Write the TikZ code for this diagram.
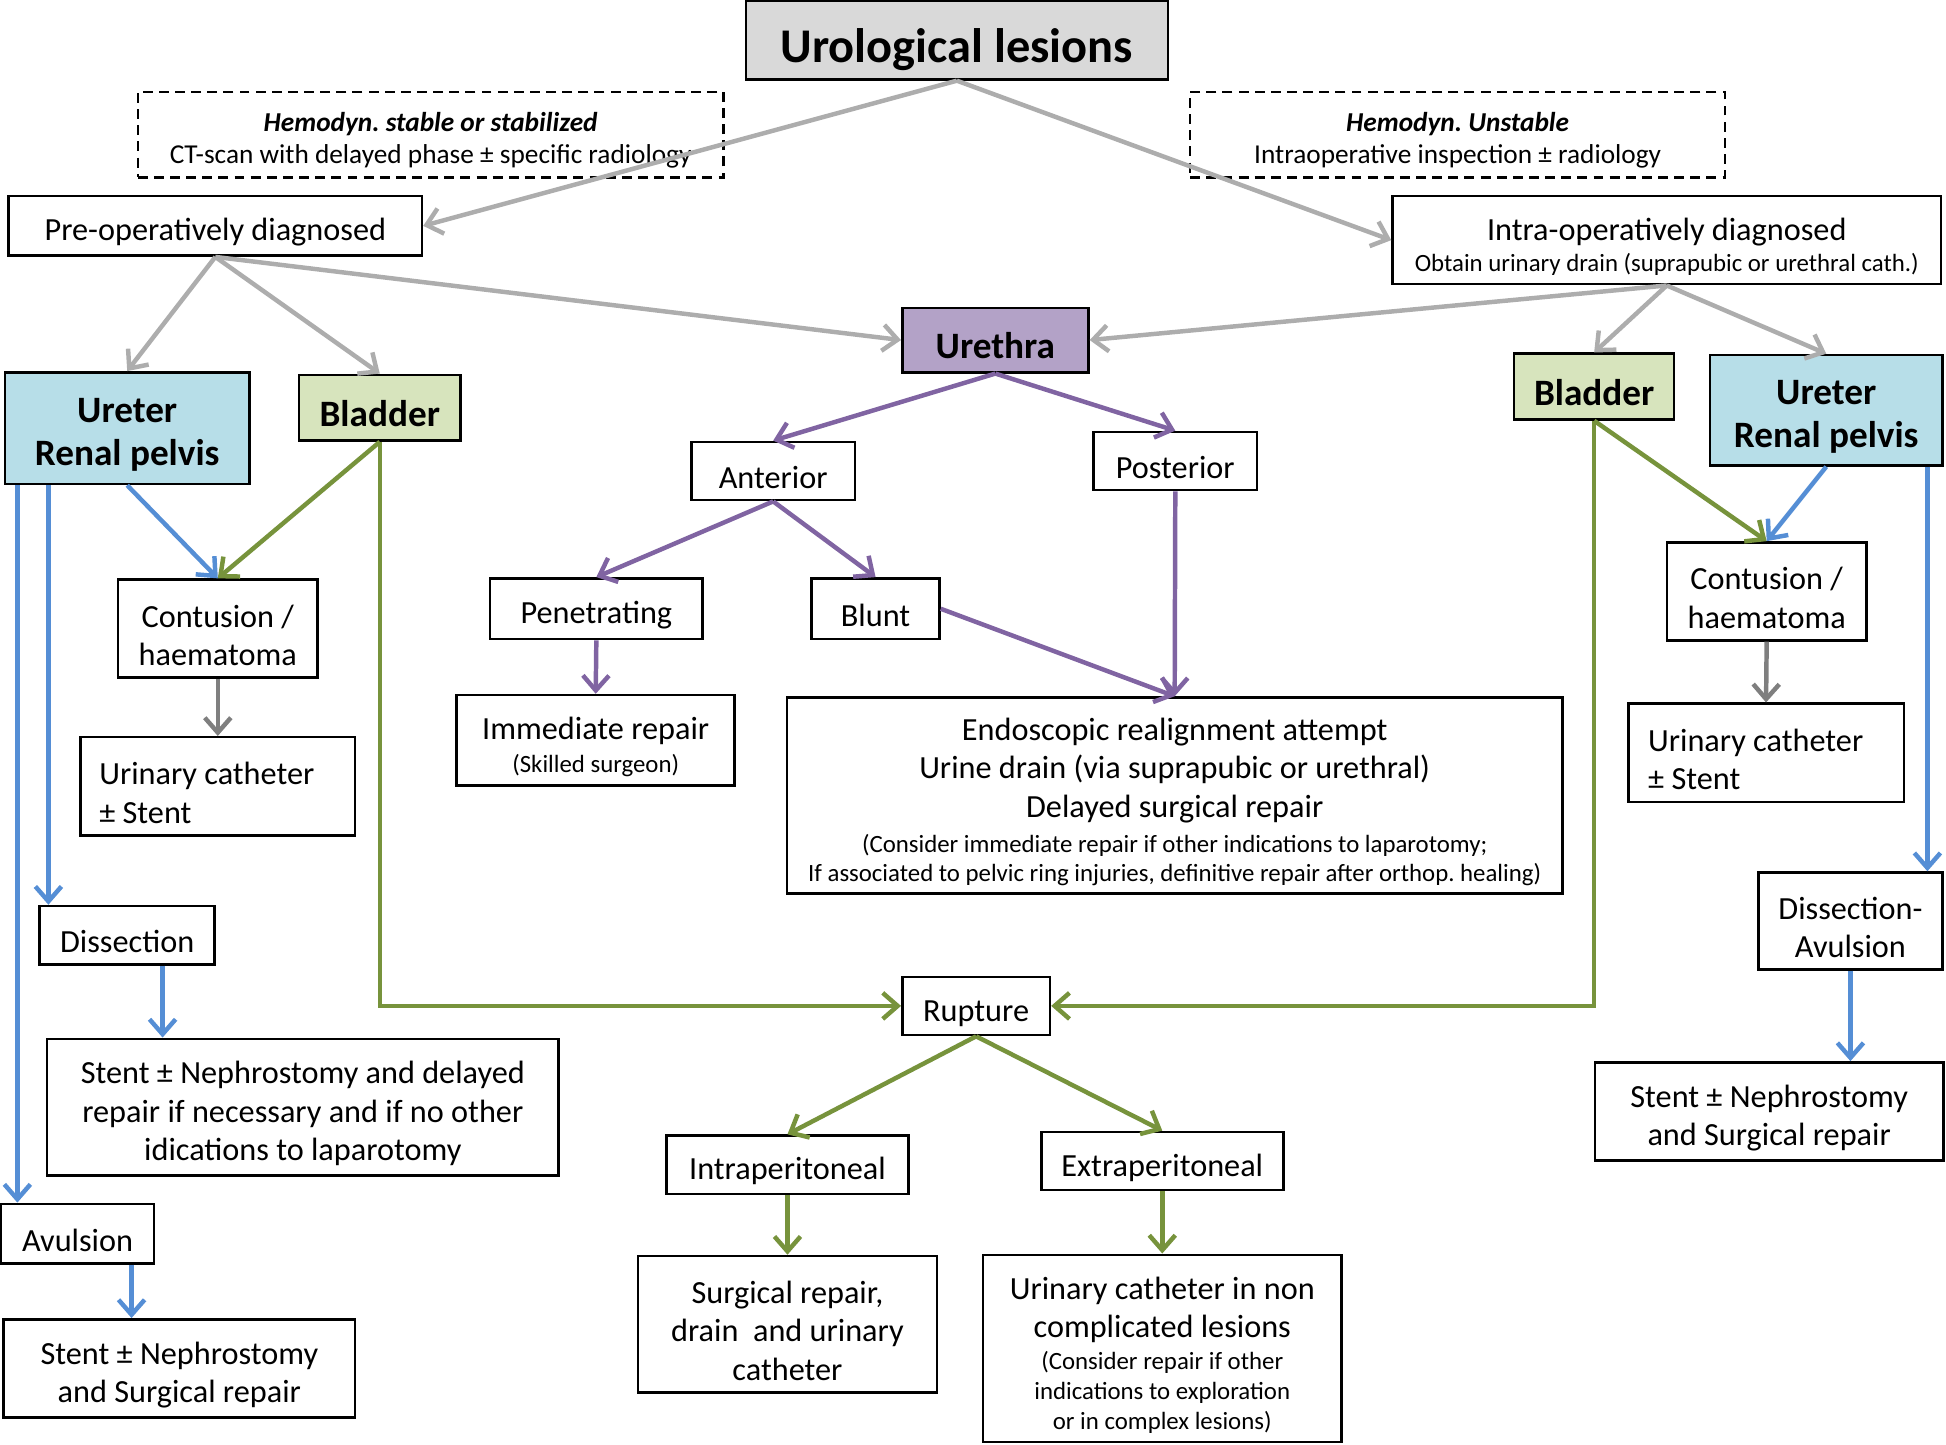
\documentclass[tikz,border=0pt]{standalone}
\usepackage{fontspec}
\setmainfont{Carlito}
\usetikzlibrary{arrows.meta}
\frenchspacing

\definecolor{titlegray}{HTML}{D9D9D9}
\definecolor{ureterfill}{HTML}{B7DEE8}
\definecolor{bladderfill}{HTML}{D7E4BD}
\definecolor{urethrafill}{HTML}{B3A2C7}
\definecolor{arrgray}{HTML}{ADADAD}
\definecolor{arrdark}{HTML}{7F7F7F}
\definecolor{arrpurple}{HTML}{8064A2}
\definecolor{arrblue}{HTML}{558ED5}
\definecolor{arrgreen}{HTML}{77933C}

\newcommand\mainsz{\fontsize{13}{15.5}\selectfont}
\newcommand\smallsz{\fontsize{10}{12}\selectfont}
\newcommand\dashsz{\fontsize{11}{13}\selectfont}
\newcommand\boldsz{\fontsize{15}{17.5}\selectfont\bfseries}
\newcommand\titlesz{\fontsize{19.5}{23}\selectfont\bfseries}

\begin{document}
\begin{tikzpicture}[
		x={(0.5pt,0pt)},
		y={(0pt,-0.5pt)},
		box/.style={draw, line width=1pt, inner xsep=0pt, inner ysep=0pt, align=center, font=\mainsz,
			execute at begin node={\spaceskip=0pt\xspaceskip=0pt\leftskip=0pt plus 1fil\rightskip=0pt plus 1fil\parfillskip=0pt\rule{0pt}{1.1em}}},
		lbox/.style={box, align=left, execute at begin node={\leftskip=0pt}},
		dbox/.style={box, dash pattern=on 4pt off 2.5pt, font=\dashsz},
		organ/.style={draw, line width=1pt, inner xsep=0pt, inner ysep=0pt, align=center, font=\boldsz,
			execute at begin node={\spaceskip=0pt\xspaceskip=0pt\leftskip=0pt plus 1fil\rightskip=0pt plus 1fil\parfillskip=0pt\rule{0pt}{1em}}},
		arr/.style={line width=1.8pt, -{Straight Barb[length=6pt,width=10.5pt]}},
		ga/.style={arr, draw=arrgray},
		da/.style={arr, draw=arrdark},
		pa/.style={arr, draw=arrpurple},
		ba/.style={arr, draw=arrblue},
		gra/.style={arr, draw=arrgreen},
	]
		\useasboundingbox (0,0) rectangle (1568,1164);
		
		\node[box, fill=titlegray, font=\titlesz, text width=170pt, minimum height=31.5pt] (title) at (771,32.5) {Urological lesions};
		\node[dbox, text width=236pt, minimum height=34.5pt] (stable) at (347,108.5) {\textbf{\textit{Hemodyn. stable or stabilized}}\\CT-scan with delayed phase ± specific radiology};
		\node[dbox, text width=215.5pt, minimum height=34.5pt] (unstable) at (1174.5,108.5) {\textbf{\textit{Hemodyn. Unstable}}\\Intraoperative inspection ± radiology};
		\node[box, text width=166.5pt, minimum height=24pt] (pre) at (173.5,182) {Pre-operatively diagnosed};
		\node[box, text width=221pt, minimum height=35.5pt] (intra) at (1343,193.5) {Intra-operatively diagnosed\\[0.5pt]\smallsz Obtain urinary drain (suprapubic or urethral cath.)\par};
		
		\node[organ, fill=urethrafill, text width=75pt, minimum height=26pt] (urethra) at (802,274) {Urethra};
		\node[organ, fill=ureterfill, text width=98.5pt, minimum height=45pt] (ureterL) at (102.5,345) {Ureter\\Renal pelvis};
		\node[organ, fill=bladderfill, text width=65pt, minimum height=26.5pt] (bladderL) at (306,328.5) {Bladder};
		\node[organ, fill=bladderfill, text width=64.5pt, minimum height=26.5pt] (bladderR) at (1284.5,311.5) {Bladder};
		\node[organ, fill=ureterfill, text width=93.5pt, minimum height=44.5pt] (ureterR) at (1471.5,330.5) {Ureter\\Renal pelvis};
		
		\node[box, text width=66pt, minimum height=23.5pt] (anterior) at (623,379.5) {Anterior};
		\node[box, text width=66pt, minimum height=23.5pt] (posterior) at (947,371.5) {Posterior};
		\node[box, text width=85.5pt, minimum height=24.5pt] (penetrating) at (480.5,490.5) {Penetrating};
		\node[box, text width=51.5pt, minimum height=24.5pt] (blunt) at (705.5,490.5) {Blunt};
		\node[box, text width=112pt, minimum height=36.5pt] (immediate) at (480,596.5) {Immediate repair\\[1.5pt]\smallsz (Skilled surgeon)\par};
		\node[box, text width=312.5pt, minimum height=79pt] (endo) at (946.5,641) {Endoscopic realignment attempt\\Urine drain (via suprapubic or urethral)\\Delayed surgical repair\\[2pt]\smallsz (Consider immediate repair if other indications to laparotomy;\\If associated to pelvic ring injuries, definitive repair after orthop. healing)\par};
		
		\node[box, text width=80.5pt, minimum height=39.5pt] (contL) at (175.5,506.5) {Contusion /\\haematoma};
		\node[lbox, inner xsep=7.5pt, text width=95.5pt, minimum height=39.5pt] (urinL) at (175.5,633.5) {Urinary catheter\\± Stent};
		\node[box, text width=70.5pt, minimum height=23.5pt] (dissL) at (102.5,753.5) {Dissection};
		\node[box, text width=206pt, minimum height=55pt] (stentL1) at (244,892) {Stent ± Nephrostomy and delayed\\repair if necessary and if no other\\idications to laparotomy};
		\node[box, text width=61.5pt, minimum height=24pt] (avulsion) at (62.5,994) {Avulsion};
		\node[box, text width=141.5pt, minimum height=39.5pt] (stentL2) at (144.5,1102.5) {Stent ± Nephrostomy\\and Surgical repair};
		
		\node[box, text width=80.5pt, minimum height=39.5pt] (contR) at (1423.5,476.5) {Contusion /\\haematoma};
		\node[lbox, inner xsep=8pt, text width=95pt, minimum height=39.5pt] (urinR) at (1423,606.5) {Urinary catheter\\± Stent};
		\node[box, text width=74pt, minimum height=39pt] (dissR) at (1491,742) {Dissection-\\Avulsion};
		\node[box, text width=140.5pt, minimum height=39.5pt] (stentR) at (1425.5,895.5) {Stent ± Nephrostomy\\and Surgical repair};
		
		\node[box, text width=59.5pt, minimum height=23.5pt] (rupture) at (786.5,810.5) {Rupture};
		\node[box, text width=97.5pt, minimum height=23.5pt] (intraper) at (634.5,938.5) {Intraperitoneal};
		\node[box, text width=97.5pt, minimum height=23.5pt] (extraper) at (936.5,935.5) {Extraperitoneal};
		\node[box, text width=120.5pt, minimum height=55pt] (surgical) at (634.5,1067) {Surgical repair,\\drain~ and urinary\\catheter};
		\node[box, text width=144.5pt, minimum height=75.5pt] (urinNon) at (936.5,1086.5) {Urinary catheter in non\\complicated lesions\\[1pt]\smallsz (Consider repair if other\\indications to exploration\\or in complex lesions)\par};
		
		\foreach \a/\b in {title.south/pre.east, title.south/intra.west, pre.south/ureterL.north, pre.south/bladderL.north, pre.south/urethra.west, intra.south/urethra.east, intra.south/bladderR.north, intra.south/ureterR.north}{
			\draw[ga] (\a) -- (\b);
		}
		\foreach \a/\b in {contL.south/urinL.north, contR.south/urinR.north}{
			\draw[da] (\a) -- (\b);
		}
		\foreach \a/\b in {urethra.south/anterior.north, urethra.south/posterior.north, anterior.south/penetrating.north, anterior.south/blunt.north, penetrating.south/immediate.north, blunt.east/endo.north, posterior.south/endo.north}{
			\draw[pa] (\a) -- (\b);
		}
		\foreach \a/\b in {bladderL.south/contL.north, bladderR.south/contR.north, rupture.south/intraper.north, rupture.south/extraper.north, intraper.south/surgical.north, extraper.south/urinNon.north}{
			\draw[gra] (\a) -- (\b);
		}
		\draw[gra] (bladderL.south) |- (rupture.west);
		\draw[gra] (bladderR.south) |- (rupture.east);
		
		\draw[ba] (ureterL.south) -- (contL.north);
		\draw[ba] ([xshift=5.5pt]ureterL.south west) -- ([xshift=5.5pt]ureterL.south west |- avulsion.north);
		\draw[ba] ([xshift=18pt]ureterL.south west) -- ([xshift=18pt]ureterL.south west |- dissL.north);
		\draw[ba] ([xshift=14.25pt]dissL.south) -- ([xshift=14.25pt]dissL.south |- stentL1.north);
		\draw[ba] ([xshift=21.75pt]avulsion.south) -- ([xshift=21.75pt]avulsion.south |- stentL2.north);
		\draw[ba] (ureterR.south) -- (contR.north);
		\draw[ba] ([xshift=-6.5pt]ureterR.south east) -- ([xshift=-6.5pt]ureterR.south east |- dissR.north);
		\draw[ba] (dissR.south) -- (dissR.south |- stentR.north);
	\end{tikzpicture}
\end{document}
